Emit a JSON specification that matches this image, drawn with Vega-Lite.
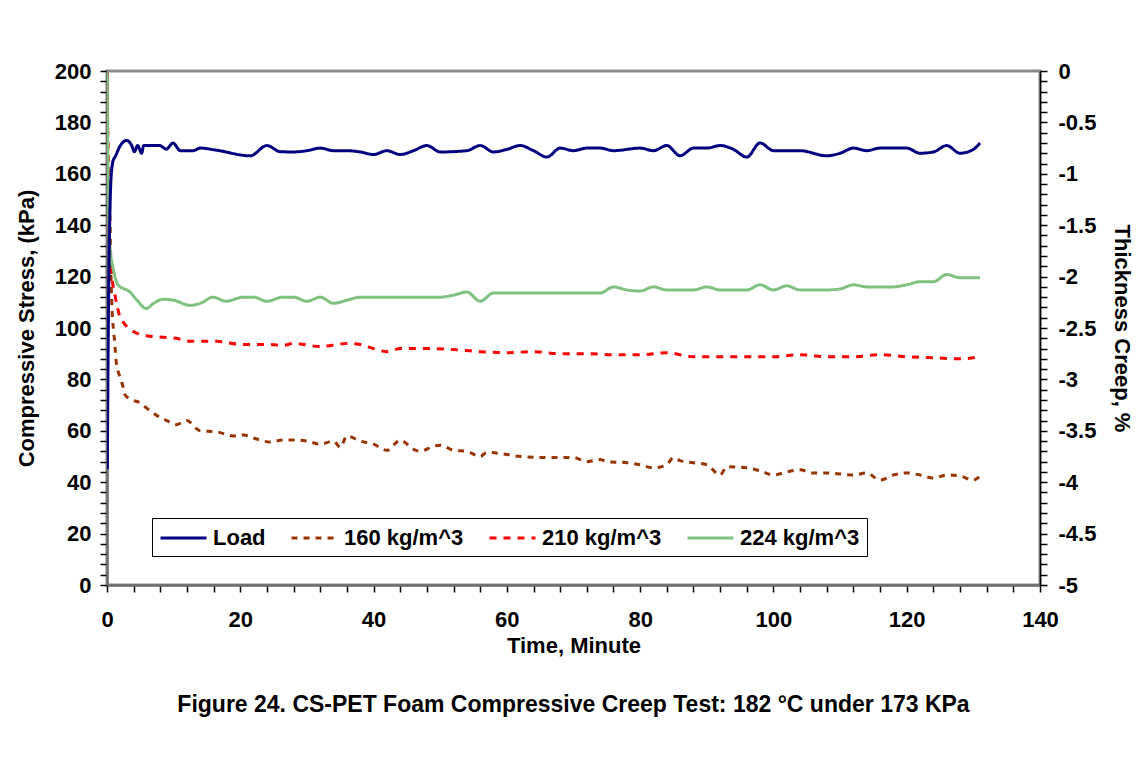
{
  "$schema": "https://vega.github.io/schema/vega-lite/v6.json",
  "width": 933,
  "height": 514,
  "autosize": {"type": "none"},
  "padding": {"left": 107, "top": 71, "right": 98, "bottom": 195},
  "background": "white",
  "title": {
    "text": "Figure 24. CS-PET Foam Compressive Creep Test: 182 °C under 173 KPa",
    "orient": "bottom",
    "anchor": "middle",
    "font": "Liberation Sans",
    "fontSize": 23,
    "fontWeight": "bold",
    "color": "black",
    "offset": 38
  },
  "config": {
    "view": {"stroke": "#8c8c8c", "strokeWidth": 3},
    "axis": {
      "labelFont": "Liberation Sans",
      "labelFontSize": 22,
      "labelFontWeight": "bold",
      "labelColor": "black",
      "titleFont": "Liberation Sans",
      "titleFontSize": 22,
      "titleFontWeight": "bold",
      "titleColor": "black",
      "grid": false,
      "tickColor": "black",
      "tickWidth": 1.5,
      "tickSize": 7,
      "labelOverlap": false,
      "labelBound": false,
      "labelFlush": false
    },
    "legend": {
      "labelFont": "Liberation Sans",
      "labelFontSize": 22,
      "labelFontWeight": "bold",
      "labelColor": "black",
      "labelLimit": 400,
      "orient": "none",
      "legendX": 45,
      "legendY": 447,
      "direction": "horizontal",
      "columns": 4,
      "symbolType": "M-1,0L3,0",
      "symbolSize": 529,
      "labelOffset": 28,
      "columnPadding": 19,
      "padding": 7,
      "strokeColor": "black",
      "fillColor": "white"
    }
  },
  "data": {"values": [
    {"t": 0.05, "series": "Load", "v": 45},
    {"t": 0.2, "series": "Load", "v": 100},
    {"t": 0.4, "series": "Load", "v": 140},
    {"t": 0.6, "series": "Load", "v": 158},
    {"t": 0.9, "series": "Load", "v": 165},
    {"t": 1.2, "series": "Load", "v": 166.5},
    {"t": 2, "series": "Load", "v": 171},
    {"t": 2.95, "series": "Load", "v": 173},
    {"t": 3.7, "series": "Load", "v": 171},
    {"t": 4.1, "series": "Load", "v": 168.6},
    {"t": 4.6, "series": "Load", "v": 171},
    {"t": 5.2, "series": "Load", "v": 168},
    {"t": 5.5, "series": "Load", "v": 171},
    {"t": 7.9, "series": "Load", "v": 171},
    {"t": 8.9, "series": "Load", "v": 169.6},
    {"t": 9.9, "series": "Load", "v": 172},
    {"t": 11, "series": "Load", "v": 169},
    {"t": 12.9, "series": "Load", "v": 169},
    {"t": 14, "series": "Load", "v": 170},
    {"t": 16.4, "series": "Load", "v": 169.2},
    {"t": 21.5, "series": "Load", "v": 167},
    {"t": 24, "series": "Load", "v": 171},
    {"t": 26, "series": "Load", "v": 168.6},
    {"t": 28, "series": "Load", "v": 168.5},
    {"t": 30, "series": "Load", "v": 169},
    {"t": 32, "series": "Load", "v": 170},
    {"t": 34, "series": "Load", "v": 169},
    {"t": 36, "series": "Load", "v": 169},
    {"t": 38, "series": "Load", "v": 168.5},
    {"t": 40, "series": "Load", "v": 167.5},
    {"t": 42, "series": "Load", "v": 169},
    {"t": 44, "series": "Load", "v": 167.5},
    {"t": 46, "series": "Load", "v": 169},
    {"t": 48, "series": "Load", "v": 171},
    {"t": 50, "series": "Load", "v": 168.5},
    {"t": 54, "series": "Load", "v": 169},
    {"t": 56, "series": "Load", "v": 171},
    {"t": 58, "series": "Load", "v": 168.5},
    {"t": 60, "series": "Load", "v": 169.5},
    {"t": 62, "series": "Load", "v": 171},
    {"t": 64, "series": "Load", "v": 169},
    {"t": 66, "series": "Load", "v": 166.5},
    {"t": 68, "series": "Load", "v": 170},
    {"t": 70, "series": "Load", "v": 169},
    {"t": 72, "series": "Load", "v": 170},
    {"t": 74, "series": "Load", "v": 170},
    {"t": 76, "series": "Load", "v": 169},
    {"t": 80, "series": "Load", "v": 170},
    {"t": 82, "series": "Load", "v": 169},
    {"t": 84, "series": "Load", "v": 171},
    {"t": 86, "series": "Load", "v": 167},
    {"t": 88, "series": "Load", "v": 170},
    {"t": 90, "series": "Load", "v": 170},
    {"t": 92, "series": "Load", "v": 171},
    {"t": 94, "series": "Load", "v": 169.5},
    {"t": 96, "series": "Load", "v": 166.5},
    {"t": 98, "series": "Load", "v": 172},
    {"t": 100, "series": "Load", "v": 169},
    {"t": 104, "series": "Load", "v": 169},
    {"t": 108, "series": "Load", "v": 167},
    {"t": 110, "series": "Load", "v": 168},
    {"t": 112, "series": "Load", "v": 170},
    {"t": 114, "series": "Load", "v": 169},
    {"t": 116, "series": "Load", "v": 170},
    {"t": 118, "series": "Load", "v": 170},
    {"t": 120, "series": "Load", "v": 170},
    {"t": 122, "series": "Load", "v": 168},
    {"t": 124, "series": "Load", "v": 168.5},
    {"t": 126, "series": "Load", "v": 171},
    {"t": 128, "series": "Load", "v": 168},
    {"t": 130, "series": "Load", "v": 169.5},
    {"t": 131, "series": "Load", "v": 172},

    {"t": 0, "series": "160 kg/m^3", "v": 0},
    {"t": 0.2, "series": "160 kg/m^3", "v": -1.0},
    {"t": 0.45, "series": "160 kg/m^3", "v": -1.45},
    {"t": 0.6, "series": "160 kg/m^3", "v": -2.0},
    {"t": 0.8, "series": "160 kg/m^3", "v": -2.38},
    {"t": 1.0, "series": "160 kg/m^3", "v": -2.53},
    {"t": 1.2, "series": "160 kg/m^3", "v": -2.68},
    {"t": 1.35, "series": "160 kg/m^3", "v": -2.81},
    {"t": 1.95, "series": "160 kg/m^3", "v": -2.98},
    {"t": 2.45, "series": "160 kg/m^3", "v": -3.08},
    {"t": 2.7, "series": "160 kg/m^3", "v": -3.15},
    {"t": 3.45, "series": "160 kg/m^3", "v": -3.19},
    {"t": 5, "series": "160 kg/m^3", "v": -3.23},
    {"t": 5.95, "series": "160 kg/m^3", "v": -3.28},
    {"t": 7.45, "series": "160 kg/m^3", "v": -3.35},
    {"t": 8.95, "series": "160 kg/m^3", "v": -3.4},
    {"t": 10.45, "series": "160 kg/m^3", "v": -3.44},
    {"t": 11.95, "series": "160 kg/m^3", "v": -3.4},
    {"t": 13.95, "series": "160 kg/m^3", "v": -3.5},
    {"t": 16.45, "series": "160 kg/m^3", "v": -3.51},
    {"t": 18.95, "series": "160 kg/m^3", "v": -3.55},
    {"t": 20.45, "series": "160 kg/m^3", "v": -3.54},
    {"t": 22.45, "series": "160 kg/m^3", "v": -3.58},
    {"t": 24.5, "series": "160 kg/m^3", "v": -3.61},
    {"t": 26.4, "series": "160 kg/m^3", "v": -3.59},
    {"t": 28, "series": "160 kg/m^3", "v": -3.59},
    {"t": 30, "series": "160 kg/m^3", "v": -3.6},
    {"t": 32, "series": "160 kg/m^3", "v": -3.63},
    {"t": 34, "series": "160 kg/m^3", "v": -3.6},
    {"t": 35, "series": "160 kg/m^3", "v": -3.66},
    {"t": 36, "series": "160 kg/m^3", "v": -3.55},
    {"t": 38, "series": "160 kg/m^3", "v": -3.6},
    {"t": 40, "series": "160 kg/m^3", "v": -3.63},
    {"t": 42, "series": "160 kg/m^3", "v": -3.69},
    {"t": 44, "series": "160 kg/m^3", "v": -3.59},
    {"t": 46, "series": "160 kg/m^3", "v": -3.68},
    {"t": 47, "series": "160 kg/m^3", "v": -3.7},
    {"t": 49, "series": "160 kg/m^3", "v": -3.65},
    {"t": 50, "series": "160 kg/m^3", "v": -3.64},
    {"t": 52, "series": "160 kg/m^3", "v": -3.69},
    {"t": 54, "series": "160 kg/m^3", "v": -3.7},
    {"t": 56, "series": "160 kg/m^3", "v": -3.75},
    {"t": 57, "series": "160 kg/m^3", "v": -3.71},
    {"t": 60, "series": "160 kg/m^3", "v": -3.73},
    {"t": 62, "series": "160 kg/m^3", "v": -3.75},
    {"t": 66, "series": "160 kg/m^3", "v": -3.76},
    {"t": 70, "series": "160 kg/m^3", "v": -3.76},
    {"t": 72, "series": "160 kg/m^3", "v": -3.8},
    {"t": 74, "series": "160 kg/m^3", "v": -3.78},
    {"t": 75, "series": "160 kg/m^3", "v": -3.8},
    {"t": 78, "series": "160 kg/m^3", "v": -3.81},
    {"t": 80, "series": "160 kg/m^3", "v": -3.83},
    {"t": 82, "series": "160 kg/m^3", "v": -3.86},
    {"t": 84, "series": "160 kg/m^3", "v": -3.83},
    {"t": 85, "series": "160 kg/m^3", "v": -3.76},
    {"t": 86, "series": "160 kg/m^3", "v": -3.79},
    {"t": 88, "series": "160 kg/m^3", "v": -3.81},
    {"t": 90, "series": "160 kg/m^3", "v": -3.83},
    {"t": 92, "series": "160 kg/m^3", "v": -3.93},
    {"t": 93, "series": "160 kg/m^3", "v": -3.85},
    {"t": 96, "series": "160 kg/m^3", "v": -3.86},
    {"t": 98, "series": "160 kg/m^3", "v": -3.89},
    {"t": 100, "series": "160 kg/m^3", "v": -3.93},
    {"t": 102, "series": "160 kg/m^3", "v": -3.9},
    {"t": 104, "series": "160 kg/m^3", "v": -3.88},
    {"t": 106, "series": "160 kg/m^3", "v": -3.91},
    {"t": 108, "series": "160 kg/m^3", "v": -3.91},
    {"t": 112, "series": "160 kg/m^3", "v": -3.93},
    {"t": 114, "series": "160 kg/m^3", "v": -3.91},
    {"t": 116, "series": "160 kg/m^3", "v": -3.98},
    {"t": 118, "series": "160 kg/m^3", "v": -3.93},
    {"t": 120, "series": "160 kg/m^3", "v": -3.91},
    {"t": 122, "series": "160 kg/m^3", "v": -3.93},
    {"t": 124, "series": "160 kg/m^3", "v": -3.96},
    {"t": 126, "series": "160 kg/m^3", "v": -3.93},
    {"t": 128, "series": "160 kg/m^3", "v": -3.94},
    {"t": 130, "series": "160 kg/m^3", "v": -3.98},
    {"t": 131, "series": "160 kg/m^3", "v": -3.94},

    {"t": 0, "series": "210 kg/m^3", "v": 0},
    {"t": 0.2, "series": "210 kg/m^3", "v": -1.0},
    {"t": 0.4, "series": "210 kg/m^3", "v": -1.7},
    {"t": 0.7, "series": "210 kg/m^3", "v": -1.98},
    {"t": 1.2, "series": "210 kg/m^3", "v": -2.18},
    {"t": 1.95, "series": "210 kg/m^3", "v": -2.39},
    {"t": 2.4, "series": "210 kg/m^3", "v": -2.44},
    {"t": 3.2, "series": "210 kg/m^3", "v": -2.5},
    {"t": 4.45, "series": "210 kg/m^3", "v": -2.55},
    {"t": 6.45, "series": "210 kg/m^3", "v": -2.58},
    {"t": 8.4, "series": "210 kg/m^3", "v": -2.59},
    {"t": 10.4, "series": "210 kg/m^3", "v": -2.6},
    {"t": 12.5, "series": "210 kg/m^3", "v": -2.63},
    {"t": 16.4, "series": "210 kg/m^3", "v": -2.63},
    {"t": 20.4, "series": "210 kg/m^3", "v": -2.66},
    {"t": 24.5, "series": "210 kg/m^3", "v": -2.66},
    {"t": 26.4, "series": "210 kg/m^3", "v": -2.67},
    {"t": 28, "series": "210 kg/m^3", "v": -2.65},
    {"t": 32, "series": "210 kg/m^3", "v": -2.68},
    {"t": 36, "series": "210 kg/m^3", "v": -2.65},
    {"t": 38, "series": "210 kg/m^3", "v": -2.66},
    {"t": 40, "series": "210 kg/m^3", "v": -2.7},
    {"t": 42, "series": "210 kg/m^3", "v": -2.73},
    {"t": 44, "series": "210 kg/m^3", "v": -2.7},
    {"t": 48, "series": "210 kg/m^3", "v": -2.7},
    {"t": 52, "series": "210 kg/m^3", "v": -2.71},
    {"t": 56, "series": "210 kg/m^3", "v": -2.73},
    {"t": 60, "series": "210 kg/m^3", "v": -2.74},
    {"t": 64, "series": "210 kg/m^3", "v": -2.73},
    {"t": 68, "series": "210 kg/m^3", "v": -2.75},
    {"t": 72, "series": "210 kg/m^3", "v": -2.75},
    {"t": 76, "series": "210 kg/m^3", "v": -2.76},
    {"t": 80, "series": "210 kg/m^3", "v": -2.76},
    {"t": 84, "series": "210 kg/m^3", "v": -2.74},
    {"t": 88, "series": "210 kg/m^3", "v": -2.78},
    {"t": 92, "series": "210 kg/m^3", "v": -2.78},
    {"t": 96, "series": "210 kg/m^3", "v": -2.78},
    {"t": 100, "series": "210 kg/m^3", "v": -2.78},
    {"t": 104, "series": "210 kg/m^3", "v": -2.76},
    {"t": 108, "series": "210 kg/m^3", "v": -2.78},
    {"t": 112, "series": "210 kg/m^3", "v": -2.78},
    {"t": 116, "series": "210 kg/m^3", "v": -2.76},
    {"t": 120, "series": "210 kg/m^3", "v": -2.78},
    {"t": 124, "series": "210 kg/m^3", "v": -2.79},
    {"t": 128, "series": "210 kg/m^3", "v": -2.8},
    {"t": 131, "series": "210 kg/m^3", "v": -2.78},

    {"t": 0, "series": "224 kg/m^3", "v": 0},
    {"t": 0.15, "series": "224 kg/m^3", "v": -1.0},
    {"t": 0.3, "series": "224 kg/m^3", "v": -1.5},
    {"t": 0.5, "series": "224 kg/m^3", "v": -1.75},
    {"t": 0.9, "series": "224 kg/m^3", "v": -1.91},
    {"t": 1.65, "series": "224 kg/m^3", "v": -2.08},
    {"t": 3.45, "series": "224 kg/m^3", "v": -2.15},
    {"t": 4.5, "series": "224 kg/m^3", "v": -2.23},
    {"t": 5.9, "series": "224 kg/m^3", "v": -2.31},
    {"t": 7, "series": "224 kg/m^3", "v": -2.26},
    {"t": 8.4, "series": "224 kg/m^3", "v": -2.22},
    {"t": 10, "series": "224 kg/m^3", "v": -2.23},
    {"t": 12.5, "series": "224 kg/m^3", "v": -2.28},
    {"t": 14, "series": "224 kg/m^3", "v": -2.26},
    {"t": 15.9, "series": "224 kg/m^3", "v": -2.2},
    {"t": 17.9, "series": "224 kg/m^3", "v": -2.24},
    {"t": 20.4, "series": "224 kg/m^3", "v": -2.2},
    {"t": 22, "series": "224 kg/m^3", "v": -2.2},
    {"t": 24, "series": "224 kg/m^3", "v": -2.24},
    {"t": 26.4, "series": "224 kg/m^3", "v": -2.2},
    {"t": 28, "series": "224 kg/m^3", "v": -2.2},
    {"t": 30, "series": "224 kg/m^3", "v": -2.24},
    {"t": 32, "series": "224 kg/m^3", "v": -2.2},
    {"t": 34, "series": "224 kg/m^3", "v": -2.26},
    {"t": 36, "series": "224 kg/m^3", "v": -2.23},
    {"t": 38, "series": "224 kg/m^3", "v": -2.2},
    {"t": 48, "series": "224 kg/m^3", "v": -2.2},
    {"t": 50, "series": "224 kg/m^3", "v": -2.2},
    {"t": 52, "series": "224 kg/m^3", "v": -2.18},
    {"t": 54, "series": "224 kg/m^3", "v": -2.15},
    {"t": 56, "series": "224 kg/m^3", "v": -2.24},
    {"t": 58, "series": "224 kg/m^3", "v": -2.16},
    {"t": 60, "series": "224 kg/m^3", "v": -2.16},
    {"t": 74, "series": "224 kg/m^3", "v": -2.16},
    {"t": 76, "series": "224 kg/m^3", "v": -2.1},
    {"t": 78, "series": "224 kg/m^3", "v": -2.13},
    {"t": 80, "series": "224 kg/m^3", "v": -2.14},
    {"t": 82, "series": "224 kg/m^3", "v": -2.1},
    {"t": 84, "series": "224 kg/m^3", "v": -2.13},
    {"t": 88, "series": "224 kg/m^3", "v": -2.13},
    {"t": 90, "series": "224 kg/m^3", "v": -2.1},
    {"t": 92, "series": "224 kg/m^3", "v": -2.13},
    {"t": 96, "series": "224 kg/m^3", "v": -2.13},
    {"t": 98, "series": "224 kg/m^3", "v": -2.08},
    {"t": 100, "series": "224 kg/m^3", "v": -2.13},
    {"t": 102, "series": "224 kg/m^3", "v": -2.09},
    {"t": 104, "series": "224 kg/m^3", "v": -2.13},
    {"t": 108, "series": "224 kg/m^3", "v": -2.13},
    {"t": 110, "series": "224 kg/m^3", "v": -2.12},
    {"t": 112, "series": "224 kg/m^3", "v": -2.08},
    {"t": 114, "series": "224 kg/m^3", "v": -2.1},
    {"t": 118, "series": "224 kg/m^3", "v": -2.1},
    {"t": 120, "series": "224 kg/m^3", "v": -2.08},
    {"t": 122, "series": "224 kg/m^3", "v": -2.05},
    {"t": 124, "series": "224 kg/m^3", "v": -2.05},
    {"t": 126, "series": "224 kg/m^3", "v": -1.98},
    {"t": 128, "series": "224 kg/m^3", "v": -2.01},
    {"t": 131, "series": "224 kg/m^3", "v": -2.01}
  ]},
  "encoding": {
    "x": {
      "field": "t",
      "type": "quantitative",
      "scale": {"domain": [0, 140], "nice": false},
      "axis": {
        "title": "Time, Minute",
        "values": [0,4,8,12,16,20,24,28,32,36,40,44,48,52,56,60,64,68,72,76,80,84,88,92,96,100,104,108,112,116,120,124,128,132,136,140],
        "labelExpr": "datum.value % 20 == 0 ? datum.label : ''",
        "labelPadding": 17,
        "titlePadding": 5,
        "domainColor": "#6e6e6e",
        "domainWidth": 2.5
      }
    },
    "color": {
      "field": "series",
      "type": "nominal",
      "scale": {
        "domain": ["Load", "160 kg/m^3", "210 kg/m^3", "224 kg/m^3"],
        "range": ["#000080", "#993300", "#ff0000", "#7fc27f"]
      },
      "legend": {"title": null}
    },
    "strokeDash": {
      "field": "series",
      "type": "nominal",
      "scale": {
        "domain": ["Load", "160 kg/m^3", "210 kg/m^3", "224 kg/m^3"],
        "range": [[1, 0], [6, 6], [7, 7], [1, 0]]
      },
      "legend": {"title": null}
    },
    "strokeWidth": {
      "field": "series",
      "type": "nominal",
      "scale": {
        "domain": ["Load", "160 kg/m^3", "210 kg/m^3", "224 kg/m^3"],
        "range": [3, 3, 3, 5.5]
      },
      "legend": {"title": null}
    }
  },
  "layer": [
    {
      "transform": [{"filter": "datum.series != 'Load'"}],
      "mark": {"type": "line", "interpolate": "monotone", "clip": true},
      "encoding": {
        "y": {
          "field": "v",
          "type": "quantitative",
          "scale": {"domain": [-5, 0], "nice": false},
          "axis": {
            "orient": "right",
            "title": "Thickness Creep, %",
            "values": [0,-0.1,-0.2,-0.3,-0.4,-0.5,-0.6,-0.7,-0.8,-0.9,-1,-1.1,-1.2,-1.3,-1.4,-1.5,-1.6,-1.7,-1.8,-1.9,-2,-2.1,-2.2,-2.3,-2.4,-2.5,-2.6,-2.7,-2.8,-2.9,-3,-3.1,-3.2,-3.3,-3.4,-3.5,-3.6,-3.7,-3.8,-3.9,-4,-4.1,-4.2,-4.3,-4.4,-4.5,-4.6,-4.7,-4.8,-4.9,-5],
            "labelExpr": "round(datum.value * 10) % 5 == 0 ? '' + datum.value : ''",
            "labelPadding": 11,
            "titlePadding": 14,
            "domainColor": "black",
            "domainWidth": 1.5
          }
        }
      }
    },
    {
      "transform": [{"filter": "datum.series == 'Load'"}],
      "mark": {"type": "line", "interpolate": "monotone", "clip": true},
      "encoding": {
        "y": {
          "field": "v",
          "type": "quantitative",
          "scale": {"domain": [0, 200], "nice": false},
          "axis": {
            "orient": "left",
            "title": "Compressive Stress, (kPa)",
            "values": [0,4,8,12,16,20,24,28,32,36,40,44,48,52,56,60,64,68,72,76,80,84,88,92,96,100,104,108,112,116,120,124,128,132,136,140,144,148,152,156,160,164,168,172,176,180,184,188,192,196,200],
            "labelExpr": "datum.value % 20 == 0 ? datum.label : ''",
            "labelPadding": 9,
            "titlePadding": 16,
            "domainColor": "#6e6e6e",
            "domainWidth": 2.5
          }
        }
      }
    }
  ],
  "resolve": {"scale": {"y": "independent"}}
}
